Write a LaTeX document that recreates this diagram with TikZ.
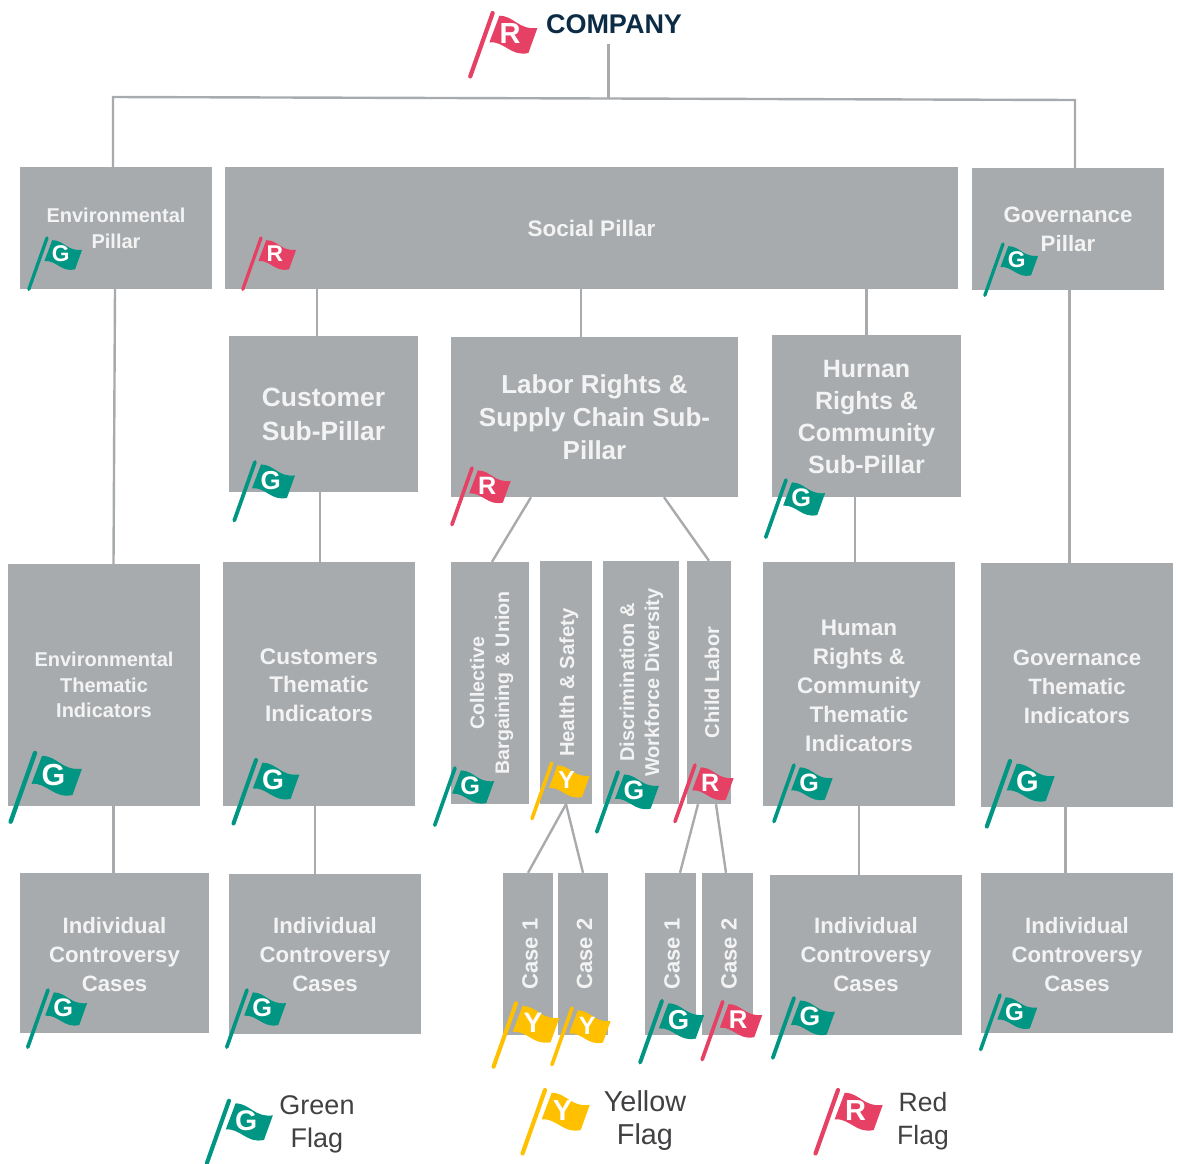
\documentclass[tikz,border=0pt]{standalone}
\usepackage{graphicx}
\usepackage{fontspec}
\setmainfont{Liberation Sans}
\definecolor{boxgrey}{HTML}{A8ABAD}
\definecolor{boxtext}{HTML}{F3F3F4}
\definecolor{flagG}{HTML}{009683}
\definecolor{flagY}{HTML}{FFC000}
\definecolor{flagR}{HTML}{E64164}
\definecolor{legendtext}{HTML}{414042}
\definecolor{navy}{HTML}{0C2B45}
\newcount\flagnum
\def\polefac{1}
% \gbox{name}{x1}{y1}{x2}{y2}{size}{lead}{text}
\newcommand{\gbox}[8]{%
  \node[greybox,minimum width={(#4-#2)*1pt},minimum height={(#5-#3)*1pt},
        font=\fontsize{#6}{#7}\selectfont\bfseries] (#1) at ({(#2+#4)/2},{(#3+#5)/2}) {#8};}
% rotated text, with a left kern that moves it right by half the kern
\newcommand{\rtext}[2][0]{\hbox{\kern#1pt\rotatebox{90}{\begin{tabular}{@{}c@{}}#2\end{tabular}}}}
% text with a top kern that moves it down by half of the first argument
\newcommand{\dn}[2]{\vbox{\kern#1pt\hbox{\begin{tabular}{@{}c@{}}#2\end{tabular}}}}
% \flagmark{x}{y}{scale}{colour}{letter}: x,y = top of pole
\newcommand{\flagmark}[5]{%
  \global\advance\flagnum by 1
  \begin{scope}[shift={(#1,#2)},scale=#3]
    \draw[#4,line width={4.2*#3},line cap=round] (0,0) -- ({-22.5*\polefac},{63.5*\polefac});
    \fill[#4] (6.7,2.7) .. controls (22,3) and (25,17) .. (44.7,15)
       -- (35.7,40) .. controls (18,44) and (12,28) .. (-3.3,29.3) -- cycle;
    \node[flagtext,font=\fontsize{\fpeval{29*#3}}{\fpeval{29*#3}}\selectfont\bfseries]
       (flag\the\flagnum) at (17.5,20.5) {#5};
  \end{scope}}
\tikzset{
  greybox/.style={fill=boxgrey,text=boxtext,inner sep=0pt,align=center},
  flagtext/.style={text=white,inner sep=0pt},
  link/.style={draw=boxgrey,line width=2.4pt},
  legendlabel/.style={text=legendtext,inner sep=0pt,align=center}
}
\begin{document}
\begin{tikzpicture}[x=1pt,y=-1pt]
\useasboundingbox (0,0) rectangle (1180,1163);
% title
\node[inner sep=0pt,text=navy,font=\fontsize{27}{30}\selectfont\bfseries] (company) at (614,24) {COMPANY};
\coordinate (stemtop) at (608.5,44);
\coordinate (trunkL) at (113,97);
\coordinate (trunkM) at (608.5,98.5);
\coordinate (trunkR) at (1075,100);
% pillars
\gbox{envp}{20}{167}{212}{289}{20}{26}{Environmental\\Pillar}
\gbox{socp}{225}{167}{958}{289}{22.5}{26}{Social Pillar}
\gbox{govp}{972}{168}{1164}{290}{22.3}{29}{Governance\\Pillar}
% sub-pillars
\gbox{cust}{229}{336}{418}{492}{26.4}{34}{Customer\\Sub-Pillar}
\gbox{labor}{451}{337}{738}{497}{26}{33}{Labor Rights \&\\Supply Chain Sub-\\Pillar}
\gbox{human}{772}{335}{961}{497}{25}{32}{\dn{6}{Hurnan\\Rights \&\\Community\\Sub-Pillar}}
% thematic indicators
\gbox{envt}{8}{564}{200}{806}{20}{25.5}{Environmental\\Thematic\\Indicators}
\gbox{custt}{223}{562}{415}{806}{22.6}{28.5}{\dn{6}{Customers\\Thematic\\Indicators}}
\gbox{coll}{451}{562}{529}{804}{19.6}{25}{\rtext[3]{Collective\\Bargaining \& Union}}
\gbox{health}{540}{561}{592}{804}{20.3}{25}{\rtext[6]{Health \& Safety}}
\gbox{disc}{603}{561}{679}{804}{20}{25}{\rtext[1]{Discrimination \&\\Workforce Diversity}}
\gbox{child}{687}{561}{731}{804}{20}{25}{\rtext[10]{Child Labor}}
\gbox{humant}{763}{562}{955}{806}{22.5}{29}{\dn{8}{Human\\Rights \&\\Community\\Thematic\\Indicators}}
\gbox{govt}{981}{563}{1173}{807}{22.2}{29}{\dn{8}{Governance\\Thematic\\Indicators}}
% cases
\gbox{indenv}{20}{873}{209}{1033}{22.2}{29}{\dn{7}{Individual\\Controversy\\Cases}}
\gbox{indcust}{229}{874}{421}{1034}{22.2}{29}{\dn{6}{Individual\\Controversy\\Cases}}
\gbox{caseA}{503}{873}{553}{1035}{22}{25}{\rtext[9]{Case 1}}
\gbox{caseB}{558}{873}{608}{1035}{22}{25}{\rtext[8]{Case 2}}
\gbox{caseC}{645}{873}{696}{1035}{22}{25}{\rtext[8]{Case 1}}
\gbox{caseD}{702}{873}{753}{1035}{22}{25}{\rtext[8]{Case 2}}
\gbox{indhum}{770}{875}{962}{1035}{22.2}{29}{Individual\\Controversy\\Cases}
\gbox{indgov}{981}{873}{1173}{1033}{22.2}{29}{\dn{8}{Individual\\Controversy\\Cases}}
% connectors
\draw[link] (stemtop) -- (trunkM);
\draw[link,line join=miter] (envp.north -| trunkL) -- (trunkL) -- (trunkM) -- (trunkR) -- (govp.north -| trunkR);
\draw[link] (115,0 |- envp.south) -- (113.5,0 |- envt.north);
\draw[link] (317,0 |- socp.south) -- (317,0 |- cust.north);
\draw[link] (581,0 |- socp.south) -- (581,0 |- labor.north);
\draw[link] (866.5,0 |- socp.south) -- (866.5,0 |- human.north);
\draw[link] (320,0 |- cust.south) -- (320,0 |- custt.north);
\draw[link] (531,0 |- labor.south) -- (492,0 |- coll.north);
\draw[link] (664,0 |- labor.south) -- (709,0 |- child.north);
\draw[link] (855,0 |- human.south) -- (855,0 |- humant.north);
\draw[link] (1069.5,0 |- govp.south) -- (1069.5,0 |- govt.north);
\draw[link] (113.5,0 |- envt.south) -- (113.5,0 |- indenv.north);
\draw[link] (315,0 |- custt.south) -- (315,0 |- indcust.north);
\draw[link] (566,0 |- health.south) -- (528,0 |- caseA.north);
\draw[link] (566,0 |- health.south) -- (583,0 |- caseB.north);
\draw[link] (698,0 |- child.south) -- (680,0 |- caseC.north);
\draw[link] (716,0 |- child.south) -- (726,0 |- caseD.north);
\draw[link] (859,0 |- humant.south) -- (859,0 |- indhum.north);
\draw[link] (1065.5,0 |- govt.south) -- (1065.5,0 |- indgov.north);
% flags
\flagmark{492.7}{13}{1}{flagR}{R}
\def\polefac{1.03}
\flagmark{47}{238}{.785}{flagG}{G}
\flagmark{261}{238}{.785}{flagR}{R}
\flagmark{1003}{244}{.785}{flagG}{G}
\flagmark{255}{462}{.895}{flagG}{G}
\flagmark{472}{468}{.865}{flagR}{R}
\flagmark{786}{480}{.875}{flagG}{G}
\flagmark{35}{753}{1.05}{flagG}{G}
\flagmark{256}{760}{.97}{flagG}{G}
\flagmark{455}{768}{.875}{flagG}{G}
\flagmark{551.7}{763}{.85}{flagY}{Y}
\flagmark{618}{772}{.915}{flagG}{G}
\flagmark{695}{765}{.865}{flagR}{R}
\flagmark{794}{765}{.865}{flagG}{G}
\flagmark{1010}{761}{1}{flagG}{G}
\flagmark{48}{990}{.875}{flagG}{G}
\flagmark{247}{990}{.875}{flagG}{G}
\flagmark{516}{1003.3}{.97}{flagY}{Y}
\flagmark{572}{1008}{.865}{flagY}{Y}
\flagmark{662}{1000.7}{.945}{flagG}{G}
\flagmark{722.7}{1001.7}{.885}{flagR}{R}
\flagmark{794}{998}{.915}{flagG}{G}
\flagmark{1000}{995}{.835}{flagG}{G}
% legend
\def\polefac{1}
\flagmark{229}{1100.7}{.98}{flagG}{G}
\flagmark{545}{1090}{1}{flagY}{Y}
\flagmark{838}{1090}{1}{flagR}{R}
\node[legendlabel,font=\fontsize{27}{33}\selectfont] (lgreen) at (317,1124) {Green\\Flag};
\node[legendlabel,font=\fontsize{28.8}{33}\selectfont] (lyellow) at (645,1120.5) {Yellow\\Flag};
\node[legendlabel,font=\fontsize{26.5}{33}\selectfont] (lred) at (923,1121.5) {Red\\Flag};
\end{tikzpicture}
\end{document}
